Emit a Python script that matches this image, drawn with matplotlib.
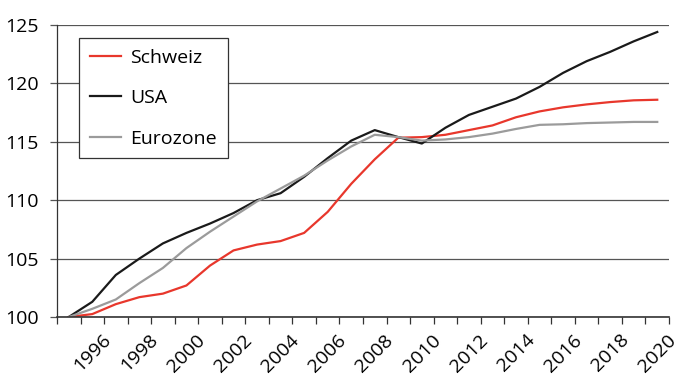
import numpy as np
import matplotlib.pyplot as plt
from matplotlib.ticker import FixedLocator

plt.rcParams['font.family'] = ['Open Sans', 'DejaVu Sans']

jahre = list(range(1995, 2021))
schweiz = [100.0, 100.25, 101.1, 101.7, 102.0, 102.7, 104.4, 105.7, 106.2, 106.5,
           107.2, 109.0, 111.4, 113.5, 115.35, 115.4, 115.6, 116.0, 116.4, 117.1,
           117.6, 117.95, 118.2, 118.4, 118.55, 118.6]
usa = [100.0, 101.3, 103.6, 105.0, 106.3, 107.2, 108.0, 108.9, 110.0, 110.6,
       112.0, 113.6, 115.1, 116.0, 115.4, 114.85, 116.2, 117.3, 118.0, 118.7,
       119.7, 120.9, 121.9, 122.7, 123.6, 124.4]
eurozone = [100.0, 100.7, 101.5, 102.9, 104.2, 105.9, 107.3, 108.6, 109.9, 111.0,
            112.1, 113.4, 114.6, 115.6, 115.4, 115.1, 115.2, 115.4, 115.7, 116.1,
            116.45, 116.5, 116.6, 116.65, 116.7, 116.7]

x = np.arange(len(jahre))

fig = plt.figure(figsize=(6.79, 3.74), dpi=100)
ax = fig.add_axes([0.0839, 0.1524, 0.9014, 0.7808])

ax.plot(x, schweiz, color='#e8372c', lw=1.6, label='Schweiz')
ax.plot(x, usa, color='#1a1a1a', lw=1.6, label='USA')
ax.plot(x, eurozone, color='#9b9b9b', lw=1.6, label='Eurozone')

ax.set_xlim(-0.5, len(jahre) - 0.5)
ax.set_ylim(100, 125)
ax.set_yticks([100, 105, 110, 115, 120, 125])
ax.yaxis.grid(True, color='#555555', lw=0.9)
ax.set_axisbelow(True)

# Kategorienachse: Striche zwischen den Jahren, Beschriftung jedes zweite Jahr
ax.set_xticks(x[1::2])
ax.set_xticklabels([str(j) for j in jahre[1::2]], rotation=45, ha='center', va='top')
ax.xaxis.set_minor_locator(FixedLocator(np.arange(-0.5, len(jahre), 1.0)))
ax.tick_params(axis='x', which='major', length=0, pad=10, labelsize=14)
ax.tick_params(axis='x', which='minor', length=5, width=0.9, color='#333333')
ax.tick_params(axis='y', length=5, width=0.9, color='#555555', pad=8, labelsize=14)

for s in ['top', 'right']:
    ax.spines[s].set_visible(False)
ax.spines['left'].set_color('#333333')
ax.spines['bottom'].set_color('#333333')
ax.spines['left'].set_linewidth(0.9)
ax.spines['bottom'].set_linewidth(1.2)

leg = ax.legend(loc='upper left', bbox_to_anchor=(0.036, 0.955), borderaxespad=0,
                fontsize=14, frameon=True, fancybox=False, edgecolor='#333333',
                handlelength=1.6, handletextpad=0.5, labelspacing=1.15,
                borderpad=0.55)
leg.get_frame().set_linewidth(0.9)
leg.get_frame().set_alpha(1)

fig.savefig('out.png', dpi=100)
